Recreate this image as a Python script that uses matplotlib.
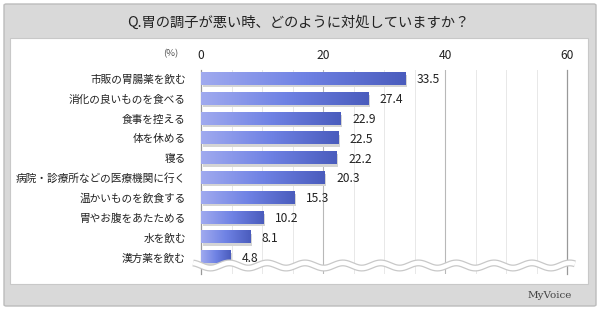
import numpy as np
import matplotlib
matplotlib.use("Agg")
import matplotlib.pyplot as plt
from matplotlib.patches import FancyBboxPatch, Rectangle
from matplotlib.colors import LinearSegmentedColormap

plt.rcParams['font.family'] = ['Noto Sans CJK JP', 'DejaVu Sans']

title = "Q.胃の調子が悪い時、どのように対処していますか？"
labels = ["市販の胃腸薬を飲む", "消化の良いものを食べる", "食事を控える", "体を休める", "寝る",
          "病院・診療所などの医療機関に行く", "温かいものを飲食する", "胃やお腹をあたためる",
          "水を飲む", "漢方薬を飲む"]
values = [33.5, 27.4, 22.9, 22.5, 22.2, 20.3, 15.3, 10.2, 8.1, 4.8]
ticks = [0, 20, 40, 60]

W, H = 600, 312
fig = plt.figure(figsize=(W / 100, H / 100), dpi=100)
fig.patch.set_facecolor('white')

def fx(px):
    return px / W

def fy(py):
    return 1 - py / H

# outer gray frame and white panel (behind the axes)
outer = FancyBboxPatch((fx(4), fy(306)), fx(592), 302 / H, boxstyle="round,pad=0,rounding_size=0.004",
                       transform=fig.transFigure, facecolor='#d9d9d9', edgecolor='#bcbcbc', lw=1, zorder=-2)
fig.add_artist(outer)
panel = Rectangle((fx(10), fy(284)), fx(578), 246 / H, transform=fig.transFigure,
                  facecolor='white', edgecolor='#c8c8c8', lw=0.8, zorder=-1)
fig.add_artist(panel)

fig.text(fx(298), fy(23), title, ha='center', va='center', fontsize=10.3, color='#222222')
fig.text(fx(171), fy(54), "(%)", ha='center', va='center', fontsize=6.8, color='#555555')
fig.text(fx(572), fy(296), "MyVoice", ha='right', va='center', fontsize=7.5, color='#444444',
         family=['DejaVu Serif'])

ax = fig.add_axes([fx(201), fy(274), fx(366), (274 - 70) / H])
ax.set_facecolor('none')

# grid
for x in range(5, 60, 5):
    if x % 20 == 0:
        ax.axvline(x, color='#b8b8b8', lw=0.8, zorder=1)
    else:
        ax.axvline(x, color='#e8e8e8', lw=0.7, zorder=1)
for s in ['top', 'bottom']:
    ax.spines[s].set_visible(False)
for s in ['left', 'right']:
    ax.spines[s].set_color('#999999')
    ax.spines[s].set_linewidth(0.9)

cmap = LinearSegmentedColormap.from_list('bar', ['#a0aaef', '#6f82e4', '#4a5cbd'])
grad = np.linspace(0, 1, 256).reshape(1, -1)
bh = 0.62
for i, v in enumerate(values):
    # shadow
    ax.add_patch(Rectangle((0.25, i - bh / 2 + 0.12), v, bh, facecolor='#d4d4d4', edgecolor='none', zorder=2))
    ax.imshow(grad, extent=[0, v, i + bh / 2, i - bh / 2], aspect='auto', cmap=cmap,
              zorder=3, interpolation='bilinear')
    ax.text(v + 1.9, i + 0.05, f"{v:.1f}", ha='left', va='center', fontsize=8.7, color='#222222', zorder=4)
ax.set_xlim(0, 60)
ax.set_ylim(9.85, -0.45)

ax.set_yticks(range(len(labels)))
ax.set_yticklabels(labels, fontsize=7.7, color='#222222')
ax.tick_params(axis='y', length=0, pad=11)
ax.set_xticks(ticks)
ax.xaxis.tick_top()
ax.tick_params(axis='x', length=0, pad=6, labelsize=8.7, labelcolor='#222222')

# wavy break line
xs = np.linspace(-1.3, 61.3, 400)
ys = 9.42 + 0.13 * np.sin(xs / 6.2 * 2 * np.pi)
ax.plot(xs, ys, color='#c8c8c8', lw=5, clip_on=False, zorder=5, solid_capstyle='butt')
ax.plot(xs, ys, color='white', lw=3.2, clip_on=False, zorder=6, solid_capstyle='butt')

fig.savefig("out.png", dpi=100, facecolor=fig.get_facecolor())
